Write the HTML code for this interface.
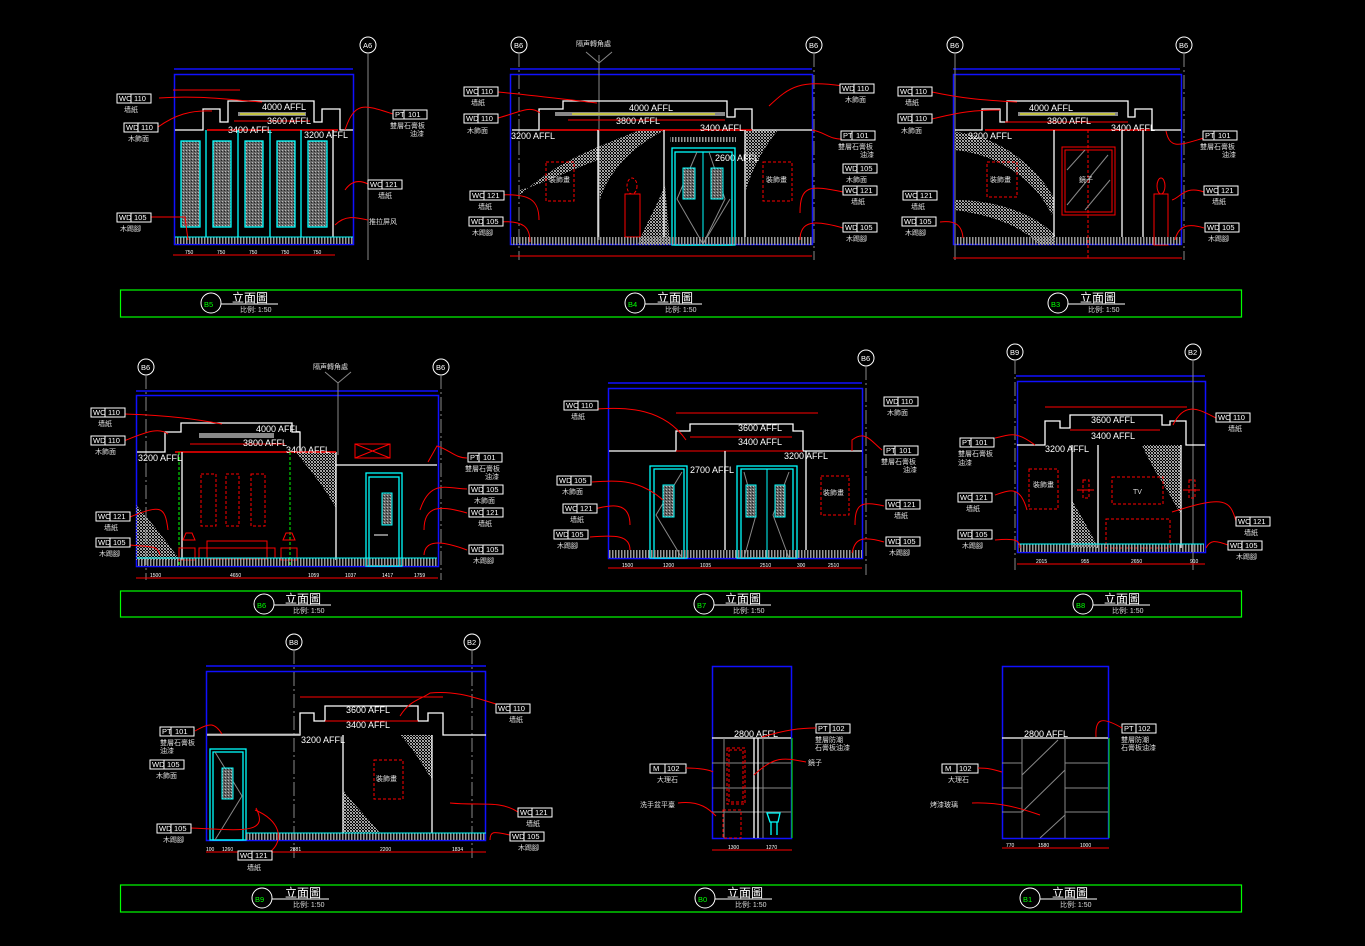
<!DOCTYPE html>
<html><head><meta charset="utf-8"><style>
html,body{margin:0;padding:0;background:#000;}
svg{display:block}
text{font-family:"Liberation Sans","Noto Sans CJK SC",sans-serif;fill:#fff}
.s{font-size:7.5px}
.m{font-size:9px}
.t{font-size:12px}
.cn{font-size:7px;fill:#ddd}
.b{fill:none;stroke:#1010ff;stroke-width:1.5}
.w{fill:none;stroke:#fff;stroke-width:1.3}
.g{fill:none;stroke:#888;stroke-width:1}
.r{fill:none;stroke:#f00;stroke-width:1}
.rd{fill:none;stroke:#f00;stroke-width:1;stroke-dasharray:3 2}
.c{fill:none;stroke:#0ff;stroke-width:1.3}
.gl{fill:none;stroke:#0f0;stroke-width:1.2}
.lb{fill:#000;stroke:#fff;stroke-width:1}
.dash{fill:none;stroke:#888;stroke-width:1;stroke-dasharray:14 3 2 3}
</style></head><body>
<svg width="1365" height="946" viewBox="0 0 1365 946" xmlns="http://www.w3.org/2000/svg">
<defs>
<pattern id="h" width="3" height="8" patternUnits="userSpaceOnUse"><rect width="1.5" height="8" fill="#999"/></pattern>
<pattern id="d" width="3" height="3" patternUnits="userSpaceOnUse"><rect x="0" y="0" width="1" height="1" fill="#aaa"/><rect x="2" y="0" width="1" height="1" fill="#999"/><rect x="1" y="1" width="1" height="1" fill="#aaa"/><rect x="0" y="2" width="1" height="1" fill="#999"/><rect x="2" y="2" width="1" height="1" fill="#aaa"/></pattern>
<pattern id="k" width="3" height="3" patternUnits="userSpaceOnUse"><rect width="3" height="3" fill="#666"/><rect width="1" height="1" fill="#bbb"/><rect x="2" y="1" width="1" height="1" fill="#222"/></pattern>
</defs>
<rect width="1365" height="946" fill="#000"/>

<rect x="120.5" y="290" width="1121" height="27" class="gl"/>
<rect x="120.5" y="591" width="1121" height="26" class="gl"/>
<rect x="120.5" y="885" width="1121" height="27" class="gl"/>
<g>
<circle cx="211" cy="303" r="10" fill="#000" stroke="#fff"/><text x="204" y="307" class="s" style="fill:#0f0">B5</text><line x1="221" y1="304" x2="278" y2="304" stroke="#fff"/><text x="232" y="302" class="t">立面圖</text><text x="240" y="312" class="cn">比例: 1:50</text>
<circle cx="635" cy="303" r="10" fill="#000" stroke="#fff"/><text x="628" y="307" class="s" style="fill:#0f0">B4</text><line x1="645" y1="304" x2="702" y2="304" stroke="#fff"/><text x="657" y="302" class="t">立面圖</text><text x="665" y="312" class="cn">比例: 1:50</text>
<circle cx="1058" cy="303" r="10" fill="#000" stroke="#fff"/><text x="1051" y="307" class="s" style="fill:#0f0">B3</text><line x1="1068" y1="304" x2="1125" y2="304" stroke="#fff"/><text x="1080" y="302" class="t">立面圖</text><text x="1088" y="312" class="cn">比例: 1:50</text>
<circle cx="264" cy="604" r="10" fill="#000" stroke="#fff"/><text x="257" y="608" class="s" style="fill:#0f0">B6</text><line x1="274" y1="605" x2="331" y2="605" stroke="#fff"/><text x="285" y="603" class="t">立面圖</text><text x="293" y="613" class="cn">比例: 1:50</text>
<circle cx="704" cy="604" r="10" fill="#000" stroke="#fff"/><text x="697" y="608" class="s" style="fill:#0f0">B7</text><line x1="714" y1="605" x2="771" y2="605" stroke="#fff"/><text x="725" y="603" class="t">立面圖</text><text x="733" y="613" class="cn">比例: 1:50</text>
<circle cx="1083" cy="604" r="10" fill="#000" stroke="#fff"/><text x="1076" y="608" class="s" style="fill:#0f0">B8</text><line x1="1093" y1="605" x2="1150" y2="605" stroke="#fff"/><text x="1104" y="603" class="t">立面圖</text><text x="1112" y="613" class="cn">比例: 1:50</text>
<circle cx="262" cy="898" r="10" fill="#000" stroke="#fff"/><text x="255" y="902" class="s" style="fill:#0f0">B9</text><line x1="272" y1="899" x2="329" y2="899" stroke="#fff"/><text x="285" y="897" class="t">立面圖</text><text x="293" y="907" class="cn">比例: 1:50</text>
<circle cx="705" cy="898" r="10" fill="#000" stroke="#fff"/><text x="698" y="902" class="s" style="fill:#0f0">B0</text><line x1="715" y1="899" x2="772" y2="899" stroke="#fff"/><text x="727" y="897" class="t">立面圖</text><text x="735" y="907" class="cn">比例: 1:50</text>
<circle cx="1030" cy="898" r="10" fill="#000" stroke="#fff"/><text x="1023" y="902" class="s" style="fill:#0f0">B1</text><line x1="1040" y1="899" x2="1097" y2="899" stroke="#fff"/><text x="1052" y="897" class="t">立面圖</text><text x="1060" y="907" class="cn">比例: 1:50</text>
</g>

<g fill="#000" stroke="#fff">
<circle cx="368" cy="45" r="8"/><circle cx="519" cy="45" r="8"/><circle cx="814" cy="45" r="8"/><circle cx="955" cy="45" r="8"/><circle cx="1184" cy="45" r="8"/>
<circle cx="146" cy="367" r="8"/><circle cx="441" cy="367" r="8"/><circle cx="866" cy="358" r="8"/><circle cx="1015" cy="352" r="8"/><circle cx="1193" cy="352" r="8"/>
<circle cx="294" cy="642" r="8"/><circle cx="472" cy="642" r="8"/>
</g>
<g class="s" style="fill:#0f0">
<text x="363" y="48">A6</text><text x="514" y="48">B6</text><text x="809" y="48">B6</text><text x="950" y="48">B6</text><text x="1179" y="48">B6</text>
<text x="141" y="370">B6</text><text x="436" y="370">B6</text><text x="861" y="361">B6</text><text x="1010" y="355">B9</text><text x="1188" y="355">B2</text>
<text x="289" y="645">B8</text><text x="467" y="645">B2</text>
</g>

<!-- ROW1 A -->
<line x1="174" y1="69" x2="353" y2="69" class="b"/>
<rect x="174.5" y="74.5" width="179" height="170" class="b"/>
<line x1="368" y1="53" x2="368" y2="260" class="g"/>
<polyline points="175,130 203,130 203,109 220,109 220,122 228,122 228,101 314,101 314,122 322,122 322,109 340,109 340,130 353,130" class="w"/>
<line x1="207" y1="130" x2="338" y2="130" stroke="#f00" stroke-width="1.5"/>
<rect x="238" y="112" width="68" height="4" fill="#888"/><line x1="240" y1="114" x2="305" y2="114" stroke="#ff0"/>
<line x1="234" y1="121" x2="310" y2="121" class="r"/>
<text x="262" y="110" class="m">4000 AFFL</text><text x="267" y="124" class="m">3600 AFFL</text><text x="228" y="133" class="m">3400 AFFL</text><text x="304" y="138" class="m">3200 AFFL</text>
<g fill="url(#k)" stroke="#0ff" stroke-width="1.3">
<rect x="181" y="141" width="19" height="86"/><rect x="213" y="141" width="18" height="86"/><rect x="245" y="141" width="18" height="86"/><rect x="277" y="141" width="18" height="86"/><rect x="308" y="141" width="19" height="86"/>
</g>
<g class="c" stroke-width="1"><line x1="206" y1="130" x2="206" y2="237"/><line x1="238" y1="130" x2="238" y2="237"/><line x1="270" y1="130" x2="270" y2="237"/><line x1="301" y1="130" x2="301" y2="237"/></g>
<line x1="333" y1="130" x2="333" y2="237" class="w" stroke-width="1"/>
<rect x="175" y="237" width="178" height="7" fill="url(#h)"/><line x1="175" y1="237" x2="353" y2="237" stroke="#0ff"/>
<line x1="173" y1="255" x2="335" y2="255" class="r"/><line x1="173" y1="90" x2="240" y2="90" class="r"/>
<g class="s" style="font-size:5px"><text x="185" y="254">750</text><text x="217" y="254">750</text><text x="249" y="254">750</text><text x="281" y="254">750</text><text x="313" y="254">750</text></g>
<path d="M159,98 C200,95 230,100 262,102" class="r"/><path d="M158,127 C175,115 190,110 212,111" class="r"/>
<path d="M345,130 C355,100 365,105 393,114" class="r"/><path d="M345,190 C352,180 360,180 368,184" class="r"/><path d="M335,225 C345,215 355,217 368,220" class="r"/><path d="M151,217 L185,217 L188,240" class="r"/>

<!-- ROW1 B -->
<line x1="510" y1="69" x2="812" y2="69" class="b"/>
<rect x="510.5" y="74.5" width="302" height="170" class="b"/>
<line x1="519" y1="53" x2="519" y2="260" class="dash"/><line x1="814" y1="53" x2="814" y2="260" class="dash"/>
<line x1="599" y1="55" x2="599" y2="240" class="g"/><polyline points="586,52 599,63 612,52" class="g"/>
<text x="576" y="46" class="cn">隔声轉角處</text>
<path d="M520,195 C560,160 590,150 640,130 L665,130 C625,150 605,180 600,200 L598,160 C570,170 540,185 520,190 Z" fill="url(#d)"/>
<path d="M638,245 L670,245 L665,185 C655,210 645,225 638,245 Z" fill="url(#d)"/>
<path d="M745,130 L778,130 C762,150 752,170 746,190 Z" fill="url(#d)"/>
<polyline points="512,130 539,130 539,109 563,109 563,101 727,101 727,117 735,117 735,109 752,109 752,130 812,130" class="w"/>
<line x1="540" y1="130" x2="752" y2="130" stroke="#f00" stroke-width="1.5"/>
<rect x="555" y="112" width="170" height="4" fill="#888"/><line x1="572" y1="114" x2="715" y2="114" stroke="#ff0"/>
<line x1="568" y1="120" x2="725" y2="120" class="r"/>
<text x="629" y="111" class="m">4000 AFFL</text><text x="616" y="124" class="m">3800 AFFL</text><text x="700" y="131" class="m">3400 AFFL</text><text x="511" y="139" class="m">3200 AFFL</text><text x="715" y="161" class="m">2600 AFFL</text>
<line x1="598" y1="130" x2="598" y2="237" class="w" stroke-width="1"/><line x1="664" y1="130" x2="664" y2="237" class="w" stroke-width="1"/><line x1="745" y1="130" x2="745" y2="237" class="w" stroke-width="1"/>
<rect x="670" y="137" width="66" height="5" fill="url(#h)"/>
<rect x="672" y="148" width="63" height="97" class="c"/><rect x="675" y="152" width="57" height="93" class="c" stroke-width="1"/><line x1="703" y1="152" x2="703" y2="245" stroke="#0ff"/>
<polyline points="677,199 697,152 677,199 703,244 725,199 709,152" class="g"/><polyline points="730,199 703,244" class="g"/>
<rect x="683" y="168" width="12" height="31" fill="url(#k)" stroke="#0ff"/><rect x="711" y="168" width="12" height="31" fill="url(#k)" stroke="#0ff"/>
<rect x="546" y="162" width="28" height="39" class="rd"/><text x="549" y="182" class="cn">裝飾畫</text>
<rect x="763" y="162" width="29" height="39" class="rd"/><text x="766" y="182" class="cn">裝飾畫</text>
<rect x="625" y="194" width="15" height="43" class="r"/><ellipse cx="632" cy="186" rx="5" ry="8" class="rd"/>
<rect x="511" y="237" width="301" height="8" fill="url(#h)"/>
<line x1="510" y1="256" x2="812" y2="256" class="r"/>
<path d="M498,92 C540,96 570,100 597,103" class="r"/><path d="M498,118 C520,112 530,105 540,113" class="r"/>
<path d="M843,86 C800,80 790,86 769,106" class="r"/><path d="M843,139 C830,140 825,132 812,130" class="r"/>
<path d="M498,195 C530,193 539,200 539,220" class="r"/><path d="M498,222 C525,220 530,228 530,242" class="r"/>
<path d="M843,192 C810,185 800,185 800,213" class="r"/><path d="M843,228 C815,220 800,220 800,240" class="r"/>

<!-- ROW1 C -->
<line x1="953" y1="69" x2="1180" y2="69" class="b"/>
<rect x="953.5" y="74.5" width="228" height="170" class="b"/>
<line x1="955" y1="53" x2="955" y2="260" class="g"/><line x1="1184" y1="53" x2="1184" y2="260" class="dash"/>
<path d="M955,132 C1000,135 1040,170 1055,200 L1052,215 C1035,180 1000,155 955,150 Z" fill="url(#d)"/>
<path d="M955,200 C990,200 1030,210 1055,235 L1055,245 L1040,245 C1020,225 990,215 955,210 Z" fill="url(#d)"/>
<polyline points="955,130 982,130 982,109 1000,109 1000,122 1007,122 1007,101 1128,101 1128,117 1135,117 1135,109 1152,109 1152,130 1181,130" class="w"/>
<line x1="985" y1="130" x2="1150" y2="130" stroke="#f00" stroke-width="1.5"/>
<rect x="1018" y="112" width="100" height="4" fill="#888"/><line x1="1020" y1="114" x2="1115" y2="114" stroke="#ff0"/>
<line x1="1005" y1="122" x2="1128" y2="122" class="r"/>
<text x="1029" y="111" class="m">4000 AFFL</text><text x="1047" y="124" class="m">3800 AFFL</text><text x="1111" y="131" class="m">3400 AFFL</text><text x="968" y="139" class="m">3200 AFFL</text>
<line x1="1054" y1="130" x2="1054" y2="237" class="w" stroke-width="1"/><line x1="1122" y1="130" x2="1122" y2="237" class="w" stroke-width="1"/><line x1="1143" y1="130" x2="1143" y2="237" class="w" stroke-width="1"/>
<line x1="1088" y1="130" x2="1088" y2="260" class="rd"/>
<rect x="1062" y="147" width="53" height="68" class="r"/><rect x="1065" y="150" width="47" height="62" class="r"/>
<g class="g"><line x1="1067" y1="170" x2="1085" y2="150"/><line x1="1067" y1="205" x2="1108" y2="155"/><line x1="1085" y1="210" x2="1110" y2="180"/></g>
<text x="1079" y="182" class="cn">鏡子</text>
<rect x="987" y="162" width="30" height="35" class="rd"/><text x="990" y="182" class="cn">裝飾畫</text>
<rect x="1154" y="194" width="14" height="51" class="r"/><ellipse cx="1161" cy="186" rx="4" ry="8" class="r"/>
<rect x="955" y="237" width="226" height="8" fill="url(#h)"/>
<line x1="953" y1="258" x2="1182" y2="258" class="r"/>
<path d="M932,92 C960,98 980,100 1017,102" class="r"/><path d="M932,119 C960,112 975,110 1000,110" class="r"/>
<path d="M1204,138 C1180,145 1170,150 1166,131" class="r"/><path d="M1204,192 C1185,185 1180,198 1172,200" class="r"/><path d="M1204,228 C1185,222 1178,228 1175,240" class="r"/><path d="M940,222 C955,220 962,225 963,238" class="r"/>

<!-- ROW2 A -->
<line x1="136" y1="391" x2="438" y2="391" class="b"/>
<rect x="136.5" y="395.5" width="302" height="171" class="b"/>
<line x1="146" y1="375" x2="146" y2="580" class="dash"/><line x1="441" y1="375" x2="441" y2="580" class="dash"/>
<line x1="338" y1="383" x2="338" y2="455" class="g"/><polyline points="325,372 338,383 351,372" class="g"/><text x="313" y="369" class="cn">隔声轉角處</text>
<path d="M136,505 C150,520 165,540 180,560 L136,560 Z" fill="url(#d)"/>
<path d="M296,452 L336,452 L336,508 C320,480 305,465 296,452 Z" fill="url(#d)"/>
<polyline points="137,452 165,452 165,432 181,432 181,423 292,423 292,432 300,432 300,452 336,452" class="w"/>
<polyline points="336,465 437,465" class="w"/><line x1="336" y1="452" x2="336" y2="560" class="w"/>
<line x1="175" y1="452" x2="336" y2="452" stroke="#f00" stroke-width="1.5"/>
<rect x="199" y="433" width="75" height="5" fill="#888"/>
<line x1="190" y1="444" x2="285" y2="444" class="r"/>
<text x="256" y="432" class="m">4000 AFFL</text><text x="243" y="446" class="m">3800 AFFL</text><text x="286" y="453" class="m">3400 AFFL</text><text x="138" y="461" class="m">3200 AFFL</text>
<line x1="179" y1="452" x2="179" y2="565" stroke="#0f0" stroke-dasharray="3 2"/><line x1="290" y1="452" x2="290" y2="565" stroke="#0f0" stroke-dasharray="3 2"/>
<line x1="182" y1="452" x2="182" y2="560" class="w" stroke-width="1"/>
<rect x="201" y="474" width="15" height="52" class="rd"/><rect x="226" y="474" width="13" height="52" class="rd"/><rect x="251" y="474" width="14" height="52" class="rd"/>
<rect x="207" y="541" width="60" height="18" class="r"/><rect x="199" y="548" width="76" height="10" class="r"/>
<rect x="179" y="548" width="16" height="12" class="r"/><rect x="281" y="548" width="16" height="12" class="r"/>
<path d="M183,540 L195,540 L192,533 L186,533 Z M283,540 L295,540 L292,533 L286,533 Z" class="r"/>
<rect x="355" y="444" width="35" height="14" class="r"/><line x1="355" y1="444" x2="390" y2="458" class="r"/><line x1="355" y1="458" x2="390" y2="444" class="r"/>
<rect x="366" y="473" width="36" height="93" class="c"/><rect x="369" y="477" width="30" height="89" class="c" stroke-width="1"/>
<rect x="382" y="493" width="10" height="32" fill="url(#k)" stroke="#0ff"/>
<line x1="374" y1="535" x2="388" y2="535" stroke="#fff"/>
<rect x="137" y="558" width="300" height="8" fill="url(#h)"/><line x1="137" y1="558" x2="437" y2="558" stroke="#0ff"/>
<line x1="136" y1="578" x2="438" y2="578" class="r"/>
<g class="s" style="font-size:5px"><text x="150" y="577">1500</text><text x="230" y="577">4650</text><text x="308" y="577">1059</text><text x="345" y="577">1037</text><text x="382" y="577">1417</text><text x="414" y="577">1759</text></g>
<path d="M124,414 C170,415 200,420 222,424" class="r"/><path d="M124,441 C150,430 160,428 168,434" class="r"/>
<path d="M467,458 C455,458 450,450 437,446 L428,462" class="r"/><path d="M467,489 C445,488 430,480 420,510" class="r"/>
<path d="M467,513 C440,505 424,505 424,530" class="r"/><path d="M467,550 C440,540 425,540 424,555" class="r"/>
<path d="M130,517 C160,505 165,505 168,530" class="r"/><path d="M130,545 C150,547 158,545 160,555" class="r"/>

<!-- ROW2 B -->
<line x1="608" y1="383" x2="862" y2="383" class="b"/>
<rect x="608.5" y="388.5" width="254" height="170" class="b"/>
<line x1="866" y1="366" x2="866" y2="575" class="dash"/>
<polyline points="609,451 676,451 676,431 690,431 690,424 793,424 793,431 803,431 803,451 862,451" class="w"/>
<line x1="676" y1="451" x2="803" y2="451" class="r" stroke-width="1.5"/>
<line x1="690" y1="437" x2="792" y2="437" class="r"/><line x1="676" y1="413" x2="818" y2="413" class="r"/>
<text x="738" y="431" class="m">3600 AFFL</text><text x="738" y="445" class="m">3400 AFFL</text><text x="784" y="459" class="m">3200 AFFL</text><text x="690" y="473" class="m">2700 AFFL</text>
<line x1="725" y1="451" x2="725" y2="550" class="w" stroke-width="1"/><line x1="806" y1="451" x2="806" y2="550" class="w" stroke-width="1"/>
<rect x="650" y="466" width="37" height="92" class="c"/><rect x="654" y="469" width="30" height="89" class="c" stroke-width="1"/>
<rect x="737" y="466" width="60" height="92" class="c"/><rect x="741" y="469" width="52" height="89" class="c" stroke-width="1"/><line x1="767" y1="469" x2="767" y2="558" stroke="#0ff"/>
<polyline points="682,472 656,515 682,558" class="g"/><polyline points="744,472 756,515 744,558" class="g"/><polyline points="789,472 773,515 789,558" class="g"/>
<rect x="663" y="485" width="11" height="32" fill="url(#k)" stroke="#0ff"/><rect x="746" y="485" width="10" height="32" fill="url(#k)" stroke="#0ff"/><rect x="775" y="485" width="10" height="32" fill="url(#k)" stroke="#0ff"/>
<rect x="821" y="476" width="28" height="39" class="rd"/><text x="823" y="495" class="cn">裝飾畫</text>
<rect x="609" y="550" width="253" height="8" fill="url(#h)"/>
<line x1="608" y1="568" x2="862" y2="568" class="r"/>
<g class="s" style="font-size:5px"><text x="622" y="567">1500</text><text x="663" y="567">1200</text><text x="700" y="567">1035</text><text x="760" y="567">2510</text><text x="797" y="567">300</text><text x="828" y="567">2510</text></g>
<path d="M587,410 C630,405 665,410 686,440" class="r"/><path d="M882,450 C870,440 865,430 852,440 L852,451" class="r"/>
<path d="M592,482 C620,480 640,480 663,500" class="r"/><path d="M590,510 C610,505 630,500 630,525" class="r"/><path d="M590,537 C615,535 630,535 630,550" class="r"/>
<path d="M884,506 C860,500 855,505 855,525" class="r"/><path d="M884,542 C860,535 855,540 852,553" class="r"/>

<!-- ROW2 C -->
<line x1="1016" y1="376" x2="1205" y2="376" class="b"/>
<rect x="1017.5" y="381.5" width="188" height="171" class="b"/>
<line x1="1015" y1="360" x2="1015" y2="570" class="dash"/><line x1="1193" y1="360" x2="1193" y2="570" class="g"/>
<path d="M1142,445 L1181,445 L1181,515 C1165,485 1150,465 1142,445 Z" fill="url(#d)"/>
<path d="M1072,500 L1072,548 L1098,548 C1090,530 1080,515 1072,500 Z" fill="url(#d)"/>
<polyline points="1017,445 1045,445 1045,421 1060,421 1060,428 1070,428 1070,415 1162,415 1162,425 1170,425 1170,421 1186,421 1186,445 1205,445" class="w"/>
<line x1="1070" y1="430" x2="1160" y2="430" class="r"/><line x1="1045" y1="407" x2="1187" y2="407" class="r"/>
<text x="1091" y="423" class="m">3600 AFFL</text><text x="1091" y="439" class="m">3400 AFFL</text><text x="1045" y="452" class="m">3200 AFFL</text>
<line x1="1072" y1="445" x2="1072" y2="548" class="w" stroke-width="1"/><line x1="1098" y1="445" x2="1098" y2="548" class="w" stroke-width="1"/><line x1="1181" y1="445" x2="1181" y2="548" class="w" stroke-width="1"/>
<rect x="1029" y="469" width="29" height="40" class="rd"/><text x="1033" y="487" class="cn">裝飾畫</text>
<rect x="1112" y="477" width="51" height="27" class="rd"/><text x="1133" y="494" class="cn">TV</text>
<rect x="1106" y="519" width="64" height="29" class="rd"/>
<rect x="1083" y="480" width="6" height="18" class="rd"/><line x1="1077" y1="490" x2="1094" y2="490" class="r"/>
<rect x="1189" y="480" width="6" height="18" class="rd"/><line x1="1183" y1="490" x2="1200" y2="490" class="r"/>
<rect x="1018" y="544" width="186" height="8" fill="url(#h)"/><line x1="1018" y1="544" x2="1204" y2="544" stroke="#0ff"/>
<line x1="1017" y1="564" x2="1205" y2="564" class="r"/>
<g class="s" style="font-size:5px"><text x="1036" y="563">2015</text><text x="1081" y="563">955</text><text x="1131" y="563">2650</text><text x="1190" y="563">910</text></g>
<path d="M995,438 C1010,435 1015,430 1035,445" class="r"/><path d="M1216,418 C1200,410 1185,400 1173,425" class="r"/>
<path d="M995,495 C1010,490 1020,485 1027,510" class="r"/><path d="M1236,521 C1230,500 1225,495 1172,512" class="r"/>
<path d="M995,540 C1015,538 1020,540 1020,548" class="r"/><path d="M1228,545 C1215,540 1210,540 1206,548" class="r"/>

<!-- ROW3 A -->
<line x1="206" y1="666" x2="486" y2="666" class="b"/>
<rect x="206.5" y="671.5" width="279" height="169" class="b"/>
<line x1="294" y1="650" x2="294" y2="858" class="dash"/><line x1="472" y1="650" x2="472" y2="858" class="dash"/>
<path d="M400,735 L432,735 L432,780 C420,760 410,745 400,735 Z" fill="url(#d)"/>
<path d="M343,790 L343,833 L380,833 C365,815 350,800 343,790 Z" fill="url(#d)"/>
<polyline points="207,735 300,735 300,713 314,713 314,721 325,721 325,706 418,706 418,721 428,721 428,713 443,713 443,735 486,735" class="w"/>
<line x1="207" y1="734" x2="300" y2="734" class="g"/>
<line x1="325" y1="721" x2="418" y2="721" class="r"/><line x1="300" y1="697" x2="443" y2="697" class="r"/>
<text x="346" y="713" class="m">3600 AFFL</text><text x="346" y="728" class="m">3400 AFFL</text><text x="301" y="743" class="m">3200 AFFL</text>
<line x1="343" y1="735" x2="343" y2="833" class="w" stroke-width="1"/><line x1="432" y1="735" x2="432" y2="833" class="w" stroke-width="1"/>
<rect x="210" y="749" width="36" height="91" class="c"/><rect x="213" y="752" width="30" height="88" class="c" stroke-width="1"/>
<polyline points="215,752 242,796 215,840" class="g"/>
<rect x="222" y="768" width="11" height="31" fill="url(#k)" stroke="#0ff"/>
<rect x="374" y="760" width="29" height="39" class="rd"/><text x="376" y="781" class="cn">裝飾畫</text>
<rect x="246" y="833" width="240" height="7" fill="url(#h)"/><line x1="246" y1="833" x2="486" y2="833" stroke="#0ff"/>
<line x1="206" y1="852" x2="486" y2="852" class="r"/>
<g class="s" style="font-size:5px"><text x="206" y="851">100</text><text x="222" y="851">1260</text><text x="290" y="851">2881</text><text x="380" y="851">2200</text><text x="452" y="851">1834</text></g>
<path d="M195,731 C210,722 215,723 222,734" class="r"/><path d="M510,708 C480,700 460,690 430,693 C420,700 410,700 400,716" class="r"/>
<path d="M190,828 C240,830 270,835 256,808" class="r"/><path d="M518,812 C500,800 480,806 450,803" class="r"/><path d="M510,835 C495,832 490,830 490,840" class="r"/>
<path d="M270,852 C285,840 280,820 255,810" class="r"/>

<!-- ROW3 B -->
<rect x="712.5" y="666.5" width="79" height="172" class="b"/>
<line x1="712" y1="738" x2="791" y2="738" class="w"/>
<g class="g"><line x1="724" y1="738" x2="724" y2="838"/><line x1="763" y1="738" x2="763" y2="838"/><line x1="712" y1="763" x2="791" y2="763"/><line x1="712" y1="788" x2="791" y2="788"/><line x1="712" y1="812" x2="791" y2="812"/></g>
<line x1="754" y1="738" x2="754" y2="838" class="w" stroke-width="1"/><line x1="758" y1="738" x2="758" y2="838" class="w" stroke-width="1"/>
<line x1="792" y1="738" x2="792" y2="838" stroke="#0f0"/>
<rect x="727" y="748" width="18" height="56" class="rd"/><rect x="729" y="750" width="14" height="52" class="rd"/>
<rect x="723" y="810" width="18" height="28" class="rd"/>
<path d="M767,813 L780,813 L778,822 L770,822 Z M771,822 L771,835 M777,822 L777,835" class="c"/>
<line x1="712" y1="850" x2="792" y2="850" class="r"/>
<text x="734" y="737" class="m">2800 AFFL</text>
<g class="s" style="font-size:5px"><text x="728" y="849">1300</text><text x="766" y="849">1270</text></g>
<rect x="816" y="724" width="34" height="9" class="lb"/><line x1="830" y1="724" x2="830" y2="733" stroke="#fff"/><text x="818" y="731" class="s">PT</text><text x="832" y="731" class="s">102</text>
<text x="815" y="742" class="cn">雙層防潮</text><text x="815" y="750" class="cn">石膏板油漆</text>
<rect x="650" y="764" width="36" height="9" class="lb"/><line x1="665" y1="764" x2="665" y2="773" stroke="#fff"/><text x="653" y="771" class="s">M</text><text x="667" y="771" class="s">102</text><text x="657" y="782" class="cn">大理石</text>
<text x="640" y="807" class="cn">洗手盆平臺</text><text x="808" y="765" class="cn">鏡子</text>
<path d="M816,728 C800,728 785,730 762,737" class="r"/><path d="M686,768 C700,768 710,770 713,772" class="r"/>
<path d="M806,762 C785,758 775,755 754,775" class="r"/><path d="M678,803 C700,800 710,810 716,816" class="r"/>

<!-- ROW3 C -->
<rect x="1002.5" y="666.5" width="106" height="172" class="b"/>
<line x1="1002" y1="738" x2="1108" y2="738" class="w"/>
<g class="g"><line x1="1022" y1="738" x2="1022" y2="838"/><line x1="1065" y1="738" x2="1065" y2="838"/><line x1="1002" y1="763" x2="1022" y2="763"/><line x1="1002" y1="788" x2="1022" y2="788"/><line x1="1002" y1="812" x2="1022" y2="812"/><line x1="1065" y1="763" x2="1108" y2="763"/><line x1="1065" y1="788" x2="1108" y2="788"/><line x1="1065" y1="812" x2="1108" y2="812"/><line x1="1022" y1="775" x2="1058" y2="740"/><line x1="1022" y1="812" x2="1065" y2="770"/><line x1="1040" y1="838" x2="1065" y2="815"/></g>
<line x1="1109" y1="738" x2="1109" y2="838" stroke="#0f0"/>
<line x1="1002" y1="848" x2="1109" y2="848" class="r"/>
<text x="1024" y="737" class="m">2800 AFFL</text>
<g class="s" style="font-size:5px"><text x="1006" y="847">770</text><text x="1038" y="847">1580</text><text x="1080" y="847">1000</text></g>
<rect x="1122" y="724" width="34" height="9" class="lb"/><line x1="1136" y1="724" x2="1136" y2="733" stroke="#fff"/><text x="1124" y="731" class="s">PT</text><text x="1138" y="731" class="s">102</text>
<text x="1121" y="742" class="cn">雙層防潮</text><text x="1121" y="750" class="cn">石膏板油漆</text>
<rect x="942" y="764" width="36" height="9" class="lb"/><line x1="957" y1="764" x2="957" y2="773" stroke="#fff"/><text x="945" y="771" class="s">M</text><text x="959" y="771" class="s">102</text><text x="948" y="782" class="cn">大理石</text>
<text x="930" y="807" class="cn">烤漆玻璃</text>
<path d="M1122,728 C1100,715 1095,720 1096,737" class="r"/><path d="M978,768 C990,768 995,770 1002,772" class="r"/><path d="M972,803 C1000,802 1020,808 1040,815" class="r"/>

<!-- tags -->
<g>
<rect x="117" y="94" width="34" height="9" class="lb"/><line x1="131" y1="94" x2="131" y2="103" stroke="#fff"/><text x="119" y="101" class="s">WC</text><text x="134" y="101" class="s">110</text><text x="124" y="112" class="cn">墙紙</text>
<rect x="124" y="123" width="34" height="9" class="lb"/><line x1="138" y1="123" x2="138" y2="132" stroke="#fff"/><text x="126" y="130" class="s">WD</text><text x="141" y="130" class="s">110</text><text x="128" y="141" class="cn">木飾面</text>
<rect x="117" y="213" width="34" height="9" class="lb"/><line x1="131" y1="213" x2="131" y2="222" stroke="#fff"/><text x="119" y="220" class="s">WD</text><text x="134" y="220" class="s">105</text><text x="120" y="231" class="cn">木踢腳</text>
<rect x="393" y="110" width="34" height="9" class="lb"/><line x1="404" y1="110" x2="404" y2="119" stroke="#fff"/><text x="395" y="117" class="s">PT</text><text x="408" y="117" class="s">101</text><text x="390" y="128" class="cn">雙層石膏板</text><text x="410" y="136" class="cn">油漆</text>
<rect x="368" y="180" width="34" height="9" class="lb"/><line x1="382" y1="180" x2="382" y2="189" stroke="#fff"/><text x="370" y="187" class="s">WC</text><text x="385" y="187" class="s">121</text><text x="378" y="198" class="cn">墙紙</text>
<text x="369" y="224" class="cn">推拉屏风</text>
<rect x="464" y="87" width="34" height="9" class="lb"/><line x1="478" y1="87" x2="478" y2="96" stroke="#fff"/><text x="466" y="94" class="s">WC</text><text x="481" y="94" class="s">110</text><text x="471" y="105" class="cn">墙紙</text>
<rect x="464" y="114" width="34" height="9" class="lb"/><line x1="478" y1="114" x2="478" y2="123" stroke="#fff"/><text x="466" y="121" class="s">WD</text><text x="481" y="121" class="s">110</text><text x="467" y="133" class="cn">木飾面</text>
<rect x="470" y="191" width="34" height="9" class="lb"/><line x1="484" y1="191" x2="484" y2="200" stroke="#fff"/><text x="472" y="198" class="s">WC</text><text x="487" y="198" class="s">121</text><text x="478" y="209" class="cn">墙紙</text>
<rect x="469" y="217" width="34" height="9" class="lb"/><line x1="483" y1="217" x2="483" y2="226" stroke="#fff"/><text x="471" y="224" class="s">WD</text><text x="486" y="224" class="s">105</text><text x="472" y="235" class="cn">木踢腳</text>
<rect x="840" y="84" width="34" height="9" class="lb"/><line x1="854" y1="84" x2="854" y2="93" stroke="#fff"/><text x="842" y="91" class="s">WD</text><text x="857" y="91" class="s">110</text><text x="845" y="102" class="cn">木飾面</text>
<rect x="841" y="131" width="34" height="9" class="lb"/><line x1="852" y1="131" x2="852" y2="140" stroke="#fff"/><text x="843" y="138" class="s">PT</text><text x="856" y="138" class="s">101</text><text x="838" y="149" class="cn">雙層石膏板</text><text x="860" y="157" class="cn">油漆</text>
<rect x="843" y="164" width="34" height="9" class="lb"/><line x1="857" y1="164" x2="857" y2="173" stroke="#fff"/><text x="845" y="171" class="s">WD</text><text x="860" y="171" class="s">105</text><text x="846" y="182" class="cn">木飾面</text>
<rect x="843" y="186" width="34" height="9" class="lb"/><line x1="857" y1="186" x2="857" y2="195" stroke="#fff"/><text x="845" y="193" class="s">WC</text><text x="860" y="193" class="s">121</text><text x="851" y="204" class="cn">墙紙</text>
<rect x="843" y="223" width="34" height="9" class="lb"/><line x1="857" y1="223" x2="857" y2="232" stroke="#fff"/><text x="845" y="230" class="s">WD</text><text x="860" y="230" class="s">105</text><text x="846" y="241" class="cn">木踢腳</text>
<rect x="898" y="87" width="34" height="9" class="lb"/><line x1="912" y1="87" x2="912" y2="96" stroke="#fff"/><text x="900" y="94" class="s">WC</text><text x="915" y="94" class="s">110</text><text x="905" y="105" class="cn">墙紙</text>
<rect x="898" y="114" width="34" height="9" class="lb"/><line x1="912" y1="114" x2="912" y2="123" stroke="#fff"/><text x="900" y="121" class="s">WD</text><text x="915" y="121" class="s">110</text><text x="901" y="133" class="cn">木飾面</text>
<rect x="903" y="191" width="34" height="9" class="lb"/><line x1="917" y1="191" x2="917" y2="200" stroke="#fff"/><text x="905" y="198" class="s">WC</text><text x="920" y="198" class="s">121</text><text x="911" y="209" class="cn">墙紙</text>
<rect x="902" y="217" width="34" height="9" class="lb"/><line x1="916" y1="217" x2="916" y2="226" stroke="#fff"/><text x="904" y="224" class="s">WD</text><text x="919" y="224" class="s">105</text><text x="905" y="235" class="cn">木踢腳</text>
<rect x="1203" y="131" width="34" height="9" class="lb"/><line x1="1214" y1="131" x2="1214" y2="140" stroke="#fff"/><text x="1205" y="138" class="s">PT</text><text x="1218" y="138" class="s">101</text><text x="1200" y="149" class="cn">雙層石膏板</text><text x="1222" y="157" class="cn">油漆</text>
<rect x="1204" y="186" width="34" height="9" class="lb"/><line x1="1218" y1="186" x2="1218" y2="195" stroke="#fff"/><text x="1206" y="193" class="s">WC</text><text x="1221" y="193" class="s">121</text><text x="1212" y="204" class="cn">墙紙</text>
<rect x="1205" y="223" width="34" height="9" class="lb"/><line x1="1219" y1="223" x2="1219" y2="232" stroke="#fff"/><text x="1207" y="230" class="s">WD</text><text x="1222" y="230" class="s">105</text><text x="1208" y="241" class="cn">木踢腳</text>
<rect x="91" y="408" width="34" height="9" class="lb"/><line x1="105" y1="408" x2="105" y2="417" stroke="#fff"/><text x="93" y="415" class="s">WC</text><text x="108" y="415" class="s">110</text><text x="98" y="426" class="cn">墙紙</text>
<rect x="91" y="436" width="34" height="9" class="lb"/><line x1="105" y1="436" x2="105" y2="445" stroke="#fff"/><text x="93" y="443" class="s">WD</text><text x="108" y="443" class="s">110</text><text x="95" y="454" class="cn">木飾面</text>
<rect x="96" y="512" width="34" height="9" class="lb"/><line x1="110" y1="512" x2="110" y2="521" stroke="#fff"/><text x="98" y="519" class="s">WC</text><text x="113" y="519" class="s">121</text><text x="104" y="530" class="cn">墙紙</text>
<rect x="96" y="538" width="34" height="9" class="lb"/><line x1="110" y1="538" x2="110" y2="547" stroke="#fff"/><text x="98" y="545" class="s">WD</text><text x="113" y="545" class="s">105</text><text x="99" y="556" class="cn">木踢腳</text>
<rect x="468" y="453" width="34" height="9" class="lb"/><line x1="479" y1="453" x2="479" y2="462" stroke="#fff"/><text x="470" y="460" class="s">PT</text><text x="483" y="460" class="s">101</text><text x="465" y="471" class="cn">雙層石膏板</text><text x="485" y="479" class="cn">油漆</text>
<rect x="469" y="485" width="34" height="9" class="lb"/><line x1="483" y1="485" x2="483" y2="494" stroke="#fff"/><text x="471" y="492" class="s">WD</text><text x="486" y="492" class="s">105</text><text x="474" y="503" class="cn">木飾面</text>
<rect x="469" y="508" width="34" height="9" class="lb"/><line x1="483" y1="508" x2="483" y2="517" stroke="#fff"/><text x="471" y="515" class="s">WC</text><text x="486" y="515" class="s">121</text><text x="478" y="526" class="cn">墙紙</text>
<rect x="469" y="545" width="34" height="9" class="lb"/><line x1="483" y1="545" x2="483" y2="554" stroke="#fff"/><text x="471" y="552" class="s">WD</text><text x="486" y="552" class="s">105</text><text x="473" y="563" class="cn">木踢腳</text>
<rect x="564" y="401" width="34" height="9" class="lb"/><line x1="578" y1="401" x2="578" y2="410" stroke="#fff"/><text x="566" y="408" class="s">WC</text><text x="581" y="408" class="s">110</text><text x="571" y="419" class="cn">墙紙</text>
<rect x="557" y="476" width="34" height="9" class="lb"/><line x1="571" y1="476" x2="571" y2="485" stroke="#fff"/><text x="559" y="483" class="s">WD</text><text x="574" y="483" class="s">105</text><text x="562" y="494" class="cn">木飾面</text>
<rect x="563" y="504" width="34" height="9" class="lb"/><line x1="577" y1="504" x2="577" y2="513" stroke="#fff"/><text x="565" y="511" class="s">WC</text><text x="580" y="511" class="s">121</text><text x="570" y="522" class="cn">墙紙</text>
<rect x="554" y="530" width="34" height="9" class="lb"/><line x1="568" y1="530" x2="568" y2="539" stroke="#fff"/><text x="556" y="537" class="s">WD</text><text x="571" y="537" class="s">105</text><text x="557" y="548" class="cn">木踢腳</text>
<rect x="884" y="397" width="34" height="9" class="lb"/><line x1="898" y1="397" x2="898" y2="406" stroke="#fff"/><text x="886" y="404" class="s">WD</text><text x="901" y="404" class="s">110</text><text x="887" y="415" class="cn">木飾面</text>
<rect x="884" y="446" width="34" height="9" class="lb"/><line x1="895" y1="446" x2="895" y2="455" stroke="#fff"/><text x="886" y="453" class="s">PT</text><text x="899" y="453" class="s">101</text><text x="881" y="464" class="cn">雙層石膏板</text><text x="903" y="472" class="cn">油漆</text>
<rect x="886" y="500" width="34" height="9" class="lb"/><line x1="900" y1="500" x2="900" y2="509" stroke="#fff"/><text x="888" y="507" class="s">WC</text><text x="903" y="507" class="s">121</text><text x="894" y="518" class="cn">墙紙</text>
<rect x="886" y="537" width="34" height="9" class="lb"/><line x1="900" y1="537" x2="900" y2="546" stroke="#fff"/><text x="888" y="544" class="s">WD</text><text x="903" y="544" class="s">105</text><text x="889" y="555" class="cn">木踢腳</text>
<rect x="960" y="438" width="34" height="9" class="lb"/><line x1="971" y1="438" x2="971" y2="447" stroke="#fff"/><text x="962" y="445" class="s">PT</text><text x="975" y="445" class="s">101</text><text x="958" y="456" class="cn">雙層石膏板</text><text x="958" y="465" class="cn">油漆</text>
<rect x="958" y="493" width="34" height="9" class="lb"/><line x1="972" y1="493" x2="972" y2="502" stroke="#fff"/><text x="960" y="500" class="s">WC</text><text x="975" y="500" class="s">121</text><text x="966" y="511" class="cn">墙紙</text>
<rect x="958" y="530" width="34" height="9" class="lb"/><line x1="972" y1="530" x2="972" y2="539" stroke="#fff"/><text x="960" y="537" class="s">WD</text><text x="975" y="537" class="s">105</text><text x="962" y="548" class="cn">木踢腳</text>
<rect x="1216" y="413" width="34" height="9" class="lb"/><line x1="1230" y1="413" x2="1230" y2="422" stroke="#fff"/><text x="1218" y="420" class="s">WC</text><text x="1233" y="420" class="s">110</text><text x="1228" y="431" class="cn">墙紙</text>
<rect x="1236" y="517" width="34" height="9" class="lb"/><line x1="1250" y1="517" x2="1250" y2="526" stroke="#fff"/><text x="1238" y="524" class="s">WC</text><text x="1253" y="524" class="s">121</text><text x="1244" y="535" class="cn">墙紙</text>
<rect x="1228" y="541" width="34" height="9" class="lb"/><line x1="1242" y1="541" x2="1242" y2="550" stroke="#fff"/><text x="1230" y="548" class="s">WD</text><text x="1245" y="548" class="s">105</text><text x="1236" y="559" class="cn">木踢腳</text>
<rect x="160" y="727" width="34" height="9" class="lb"/><line x1="171" y1="727" x2="171" y2="736" stroke="#fff"/><text x="162" y="734" class="s">PT</text><text x="175" y="734" class="s">101</text><text x="160" y="745" class="cn">雙層石膏板</text><text x="160" y="753" class="cn">油漆</text>
<rect x="150" y="760" width="34" height="9" class="lb"/><line x1="164" y1="760" x2="164" y2="769" stroke="#fff"/><text x="152" y="767" class="s">WD</text><text x="167" y="767" class="s">105</text><text x="156" y="778" class="cn">木飾面</text>
<rect x="157" y="824" width="34" height="9" class="lb"/><line x1="171" y1="824" x2="171" y2="833" stroke="#fff"/><text x="159" y="831" class="s">WD</text><text x="174" y="831" class="s">105</text><text x="163" y="842" class="cn">木踢腳</text>
<rect x="238" y="851" width="34" height="9" class="lb"/><line x1="252" y1="851" x2="252" y2="860" stroke="#fff"/><text x="240" y="858" class="s">WC</text><text x="255" y="858" class="s">121</text><text x="247" y="870" class="cn">墙紙</text>
<rect x="496" y="704" width="34" height="9" class="lb"/><line x1="510" y1="704" x2="510" y2="713" stroke="#fff"/><text x="498" y="711" class="s">WC</text><text x="513" y="711" class="s">110</text><text x="509" y="722" class="cn">墙紙</text>
<rect x="518" y="808" width="34" height="9" class="lb"/><line x1="532" y1="808" x2="532" y2="817" stroke="#fff"/><text x="520" y="815" class="s">WC</text><text x="535" y="815" class="s">121</text><text x="526" y="826" class="cn">墙紙</text>
<rect x="510" y="832" width="34" height="9" class="lb"/><line x1="524" y1="832" x2="524" y2="841" stroke="#fff"/><text x="512" y="839" class="s">WD</text><text x="527" y="839" class="s">105</text><text x="518" y="850" class="cn">木踢腳</text>
</g>
</svg>
</body></html>
